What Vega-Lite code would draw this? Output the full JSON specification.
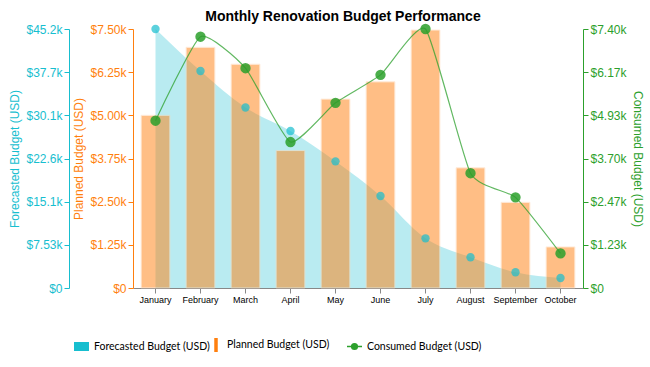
{
  "$schema": "https://vega.github.io/schema/vega-lite/v6.json",
  "width": 450,
  "height": 259,
  "autosize": {"type": "none"},
  "padding": {"left": 133, "top": 29, "right": 67, "bottom": 79},
  "background": "white",
  "title": {
    "text": "Monthly Renovation Budget Performance",
    "font": "Liberation Sans",
    "fontSize": 14,
    "fontWeight": "bold",
    "color": "black",
    "anchor": "middle",
    "dx": -15,
    "offset": -3
  },
  "config": {
    "view": {"stroke": null},
    "axis": {"grid": false, "labelFont": "Liberation Sans", "titleFont": "Liberation Sans", "titleFontWeight": "normal"},
    "legend": {"labelFont": "Lato", "labelFontSize": 10.5, "labelColor": "black", "title": null, "orient": "none", "direction": "horizontal", "symbolOpacity": 1, "legendY": 309, "labelOffset": 4}
  },
  "data": {
    "values": [
      {"month": "January", "forecast": 45200, "planned": 5000, "consumed": 4780},
      {"month": "February", "forecast": 37870, "planned": 6970, "consumed": 7180},
      {"month": "March", "forecast": 31500, "planned": 6480, "consumed": 6280},
      {"month": "April", "forecast": 27400, "planned": 3980, "consumed": 4170},
      {"month": "May", "forecast": 22100, "planned": 5470, "consumed": 5290},
      {"month": "June", "forecast": 16060, "planned": 5970, "consumed": 6090},
      {"month": "July", "forecast": 8670, "planned": 7470, "consumed": 7400},
      {"month": "August", "forecast": 5360, "planned": 3480, "consumed": 3280},
      {"month": "September", "forecast": 2740, "planned": 2480, "consumed": 2590},
      {"month": "October", "forecast": 1750, "planned": 1190, "consumed": 990}
    ]
  },
  "encoding": {
    "x": {
      "field": "month",
      "type": "ordinal",
      "sort": null,
      "scale": {"paddingInner": 0.36},
      "axis": {
        "title": null,
        "labelAngle": 0,
        "labelFontSize": 9,
        "labelColor": "black",
        "domainColor": "#888888",
        "tickColor": "#888888",
        "tickSize": 5,
        "labelPadding": 2
      }
    }
  },
  "layer": [
    {
      "mark": {"type": "area", "interpolate": "monotone", "fillOpacity": 0.3},
      "encoding": {
        "y": {
          "field": "forecast",
          "type": "quantitative",
          "scale": {"domain": [0, 45200], "nice": false},
          "axis": {
            "orient": "left",
            "offset": 64,
            "title": "Forecasted Budget (USD)",
            "titleColor": "#17becf",
            "titleFontSize": 12,
            "titlePadding": 4,
            "labelColor": "#17becf",
            "labelFontSize": 12,
            "domainColor": "#17becf",
            "tickColor": "#17becf",
            "tickSize": 5,
            "labelPadding": 2,
            "values": [0, 7533.33, 15066.67, 22600, 30133.33, 37666.67, 45200],
            "labelExpr": "datum.value == 0 ? '$0' : format(datum.value, '$.3s')"
          }
        },
        "fill": {
          "datum": "Forecasted Budget (USD)",
          "scale": {"range": ["#17becf"]},
          "legend": {"symbolType": "M-1,-0.6H1V0.6H-1Z", "symbolSize": 225, "symbolOpacity": 1, "legendX": -60}
        }
      }
    },
    {
      "mark": {"type": "bar", "opacity": 0.5, "stroke": "#ffd9b8", "strokeWidth": 1},
      "encoding": {
        "y": {
          "field": "planned",
          "type": "quantitative",
          "scale": {"domain": [0, 7500], "nice": false},
          "axis": {
            "orient": "left",
            "offset": 0,
            "title": "Planned Budget (USD)",
            "titleColor": "#ff7f0e",
            "titleFontSize": 12,
            "titlePadding": 4,
            "labelColor": "#ff7f0e",
            "labelFontSize": 12,
            "domainColor": "#ff7f0e",
            "tickColor": "#ff7f0e",
            "tickSize": 5,
            "labelPadding": 2,
            "values": [0, 1250, 2500, 3750, 5000, 6250, 7500],
            "labelExpr": "datum.value == 0 ? '$0' : format(datum.value, '$.3s')"
          }
        },
        "color": {
          "datum": "Planned Budget (USD)",
          "scale": {"range": ["#ff7f0e"]},
          "legend": {"symbolType": "M-0.25,-1H0.25V1H-0.25Z", "symbolSize": 196, "symbolOpacity": 1, "symbolStrokeWidth": 0, "legendX": 76}
        }
      }
    },
    {
      "mark": {"type": "point", "filled": true, "size": 70, "color": "#17becf", "opacity": 0.7},
      "encoding": {
        "y": {
          "field": "forecast",
          "type": "quantitative",
          "scale": {"domain": [0, 45200], "nice": false},
          "axis": null
        }
      }
    },
    {
      "mark": {
        "type": "line",
        "interpolate": "cardinal",
        "tension": 0.5,
        "strokeWidth": 1.2,
        "opacity": 0.75,
        "point": {"filled": true, "size": 70, "color": "#2ca02c", "opacity": 0.85}
      },
      "encoding": {
        "y": {
          "field": "consumed",
          "type": "quantitative",
          "scale": {"domain": [0, 7400], "nice": false},
          "axis": {
            "orient": "right",
            "title": "Consumed Budget (USD)",
            "titleColor": "#2ca02c",
            "titleFontSize": 12,
            "titlePadding": 4,
            "labelColor": "#2ca02c",
            "labelFontSize": 12,
            "domainColor": "#2ca02c",
            "tickColor": "#2ca02c",
            "tickSize": 5,
            "labelPadding": 2,
            "values": [0, 1233.33, 2466.67, 3700, 4933.33, 6166.67, 7400],
            "labelExpr": "datum.value == 0 ? '$0' : format(datum.value, '$.3s')"
          }
        },
        "stroke": {
          "datum": "Consumed Budget (USD)",
          "scale": {"range": ["#2ca02c"]},
          "legend": {
            "symbolType": "M-1,0H1M-0.38,0A0.38,0.38,0,1,1,0.38,0A0.38,0.38,0,1,1,-0.38,0Z",
            "symbolSize": 225,
            "symbolFillColor": "#2ca02c",
            "symbolStrokeColor": "#2ca02c",
            "symbolStrokeWidth": 1.5,
            "symbolOpacity": 1,
            "legendX": 213
          }
        }
      }
    }
  ],
  "resolve": {"scale": {"y": "independent", "fill": "independent", "color": "independent", "stroke": "independent"}}
}
